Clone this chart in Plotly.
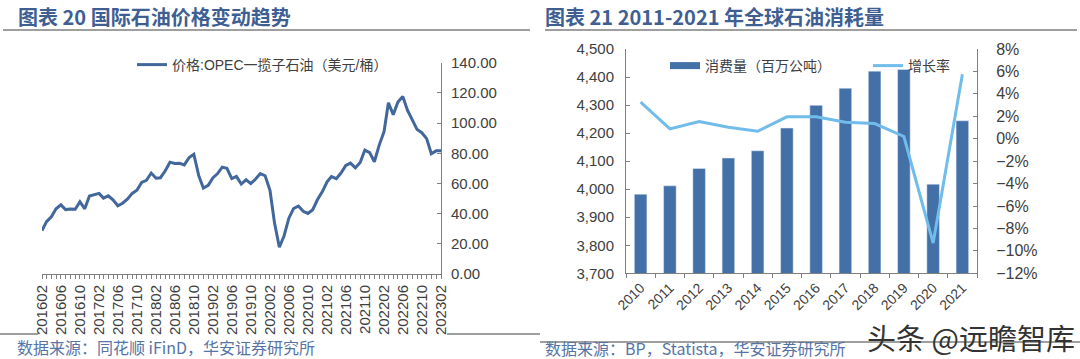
import plotly.graph_objects as go
import pandas as pd

# ---- Left chart data: OPEC basket price (USD/bbl), monthly 2016-02 .. 2023-02
price_start = "2016-02-01"
price = [
    28.7, 34.7, 37.9, 43.2, 45.8, 42.7, 43.1, 42.9, 47.9, 43.2, 51.7,          # 2016 Feb-Dec
    52.4, 53.4, 50.3, 51.8, 49.2, 45.2, 46.9, 49.6, 53.4, 55.5, 60.7, 62.1,    # 2017
    66.9, 63.5, 63.8, 68.4, 74.1, 73.2, 73.3, 72.3, 77.2, 79.4, 65.3, 56.9,    # 2018
    58.7, 63.8, 66.4, 70.8, 70.0, 63.2, 64.7, 59.6, 62.4, 59.9, 62.9, 66.5,    # 2019
    65.1, 55.5, 33.9, 17.7, 25.2, 37.0, 43.4, 45.0, 41.5, 40.1, 42.6, 49.2,    # 2020
    54.4, 61.0, 64.6, 63.2, 66.9, 71.9, 73.5, 70.3, 73.9, 82.1, 80.4, 74.4,    # 2021
    85.4, 94.3, 113.5, 105.6, 113.9, 117.7, 108.5, 101.9, 95.7, 93.6, 89.7, 79.7,  # 2022
    81.6, 81.6,                                                                  # 2023 Jan-Feb
]
price_name = "价格:OPEC一揽子石油（美元/桶）"

# ---- Right chart data: global oil consumption
years = ["2010", "2011", "2012", "2013", "2014", "2015",
         "2016", "2017", "2018", "2019", "2020", "2021"]
consumption = [3982, 4012, 4074, 4111, 4137, 4218, 4299, 4360, 4421, 4427, 4018, 4244]
growth = [0.0326, 0.0087, 0.0153, 0.0102, 0.0066, 0.0195,
          0.0195, 0.0147, 0.0135, 0.0020, -0.0930, 0.0575]
cons_name = "消费量（百万公吨）"
growth_name = "增长率"

title_left = "图表 20 国际石油价格变动趋势"
title_right = "图表 21 2011-2021 年全球石油消耗量"
source_left = "数据来源：同花顺 iFinD，华安证券研究所"
source_right = "数据来源：BP，Statista，华安证券研究所"
watermark = "头条 @远瞻智库"

W, H = 1080, 359
def px(x):
    return x / W
def py(y):
    return 1 - y / H

FONT = "Liberation Sans, Arial, Noto Sans CJK SC, sans-serif"
AX = "#808080"
TXT = "#404040"
TITLE_C = "#3F5F93"
SRC_C = "#5674A6"
BAR_C = "#4470A8"
LINE_C = "#70BCEB"
PRICE_C = "#41679B"

dates = pd.date_range(price_start, periods=len(price), freq="MS")

fig = go.Figure()

fig.add_trace(go.Scatter(
    x=dates, y=price, mode="lines", name=price_name,
    line=dict(color=PRICE_C, width=3), xaxis="x", yaxis="y", legend="legend",
))

fig.add_trace(go.Bar(
    x=years, y=consumption, name=cons_name, marker_color=BAR_C,
    xaxis="x2", yaxis="y2", showlegend=False,
))
# legend swatch for bars (wide rectangle like the reference)
fig.add_trace(go.Scatter(
    x=[None], y=[None], mode="lines", name=cons_name,
    line=dict(color=BAR_C, width=7), xaxis="x2", yaxis="y2", legend="legend2",
))
fig.add_trace(go.Scatter(
    x=years, y=growth, mode="lines", name=growth_name,
    line=dict(color=LINE_C, width=3), xaxis="x2", yaxis="y3", legend="legend2",
))

fig.update_layout(
    width=W, height=H, margin=dict(l=0, r=0, t=0, b=0),
    paper_bgcolor="white", plot_bgcolor="white",
    font=dict(family=FONT, size=15, color=TXT),
    bargap=0.57,
    xaxis=dict(
        domain=[px(42), px(441)], type="date",
        range=[dates[0], dates[-1]],
        tick0=price_start, dtick="M4", tickformat="%Y%m", tickangle=-90,
        ticks="outside", ticklen=4, tickcolor=AX,
        minor=dict(dtick="M1", ticks="outside", ticklen=4, tickcolor=AX),
        showline=True, linecolor=AX, showgrid=False, zeroline=False,
        anchor="y", tickfont=dict(size=15), automargin=False,
    ),
    yaxis=dict(
        domain=[py(274), py(62.7)], range=[0, 140], dtick=20, tickformat=".2f",
        side="right", anchor="x", ticks="inside", ticklen=4, tickcolor=AX,
        showline=True, linecolor=AX, showgrid=False, zeroline=False,
        ticklabelstandoff=6, automargin=False,
    ),
    xaxis2=dict(
        domain=[px(626), px(977)], type="category", range=[-0.5, 11.5],
        tickangle=-45, ticks="outside", ticklen=4, tickcolor=AX, tickson="boundaries",
        showline=True, linecolor=AX, showgrid=False, zeroline=False,
        anchor="y2", tickfont=dict(size=14), automargin=False,
    ),
    yaxis2=dict(
        domain=[py(273.3), py(49)], range=[3700, 4500], dtick=100, tickformat=",",
        side="left", anchor="x2", ticks="inside", ticklen=4, tickcolor=AX,
        showline=True, linecolor=AX, showgrid=False, zeroline=False,
        ticklabelstandoff=8, automargin=False,
    ),
    yaxis3=dict(
        range=[-0.12, 0.08], dtick=0.02, tickformat=".0%",
        overlaying="y2", side="right", anchor="x2", ticks="inside", ticklen=4,
        tickcolor=AX, showline=True, linecolor=AX, showgrid=False, zeroline=False,
        ticklabelstandoff=15, tickfont=dict(size=16), automargin=False,
    ),
    legend=dict(
        x=px(132), y=py(65), xanchor="left", yanchor="middle",
        bgcolor="rgba(0,0,0,0)", font=dict(size=14, color=TXT),
    ),
    legend2=dict(
        x=px(665), y=py(66), xanchor="left", yanchor="middle", orientation="h",
        bgcolor="rgba(0,0,0,0)", font=dict(size=14, color=TXT),
        entrywidth=158, entrywidthmode="pixels",
    ),
    showlegend=True,
)

shapes = []
def hline(x0, x1, y, color="#404040", width=1.2):
    shapes.append(dict(type="line", xref="paper", yref="paper",
                       x0=px(x0), x1=px(x1), y0=py(y), y1=py(y),
                       line=dict(color=color, width=width)))
hline(3, 530, 30)
hline(545, 1077, 30)
hline(0, 38, 334)
hline(447, 540, 334)
hline(540, 1080, 342)
fig.update_layout(shapes=shapes)

ann = [
    dict(text="<b>" + title_left + "</b>", x=px(16), y=py(17), xanchor="left", yanchor="middle",
         font=dict(size=20, color=TITLE_C, family="Noto Sans CJK SC, Liberation Sans")),
    dict(text="<b>" + title_right + "</b>", x=px(543), y=py(17), xanchor="left", yanchor="middle",
         font=dict(size=20, color=TITLE_C, family="Noto Sans CJK SC, Liberation Sans")),
    dict(text=source_left, x=px(15), y=py(347), xanchor="left", yanchor="middle",
         font=dict(size=16, color=SRC_C, family="Noto Sans CJK SC, Liberation Serif")),
    dict(text=source_right, x=px(543), y=py(348), xanchor="left", yanchor="middle",
         font=dict(size=16, color=SRC_C, family="Noto Sans CJK SC, Liberation Serif")),
    dict(text=watermark, x=px(1077), y=py(337), xanchor="right", yanchor="middle",
         font=dict(size=29, color="#333333", family="Noto Sans CJK SC")),
]
for a in ann:
    a.update(xref="paper", yref="paper", showarrow=False)
fig.update_layout(annotations=ann)

fig.write_html("out.html", config={"displayModeBar": False},
               post_script="document.body.style.margin='0';")
